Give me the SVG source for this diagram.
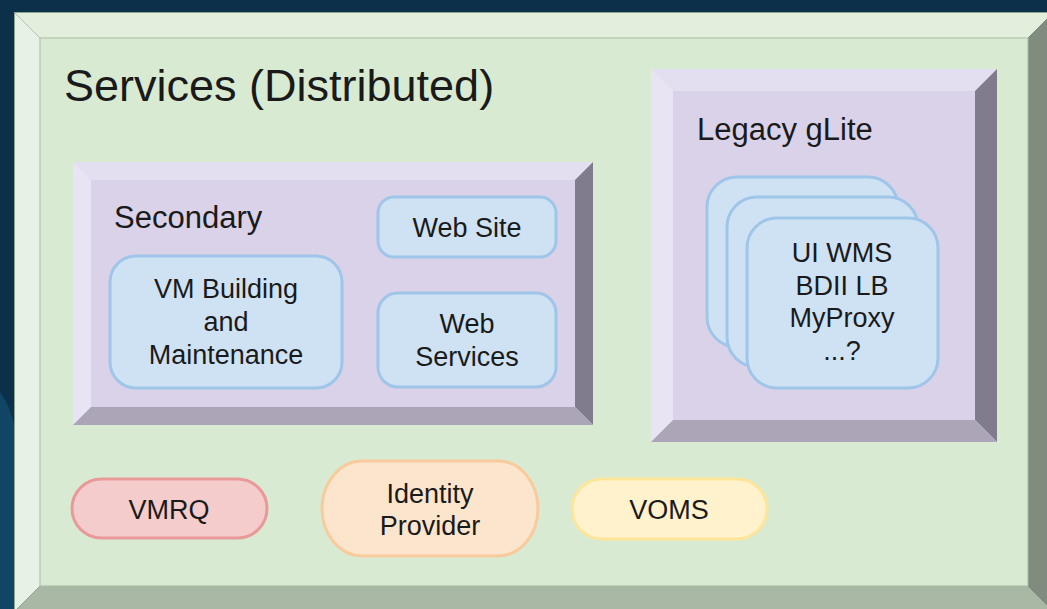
<svg xmlns="http://www.w3.org/2000/svg" width="1047" height="609" viewBox="0 0 1047 609">
<style>
text{font-family:"Liberation Sans",Arial,sans-serif;fill:#1a1a1a}
.t{font-size:27px;text-anchor:middle}
.blue{fill:#cfe2f3;stroke:#9fc5e8;stroke-width:3}
.gT{fill:#e3eedd}.gL{fill:#e8f1e5}.gR{fill:#7f8c7e}.gB{fill:#a9b8a5}.gF{fill:#d9ead3;stroke:#a8bba4;stroke-width:1}
.pT{fill:#e3def0}.pL{fill:#e8e4f3}.pR{fill:#817c8d}.pB{fill:#aba5b7}.pF{fill:#d9d2e9}
</style>
<rect x="0" y="0" width="1047" height="609" fill="#0c2f4a"/>
<path d="M0 392 Q10 405 14 425 L14 609 L0 609 Z" fill="#104566"/>
<g id="services">
<polygon class="gT" points="14,12 1054,12 1028,38 40,38"/>
<polygon class="gL" points="14,12 40,38 40,586 14,612"/>
<polygon class="gR" points="1054,12 1054,612 1028,586 1028,38"/>
<polygon class="gB" points="14,612 1054,612 1028,586 40,586"/>
<rect class="gF" x="40" y="38" width="988" height="548"/>
<rect x="14.5" y="12.5" width="1040" height="600" fill="none" stroke="#8da38a" stroke-width="1"/>
<text x="64" y="101" font-size="45">Services (Distributed)</text>
</g>
<g id="secondary">
<polygon class="pT" points="73,162 593,162 575,180 91,180"/>
<polygon class="pL" points="73,162 91,180 91,407 73,425"/>
<polygon class="pR" points="593,162 593,425 575,407 575,180"/>
<polygon class="pB" points="73,425 593,425 575,407 91,407"/>
<rect class="pF" x="91" y="180" width="484" height="227"/>
<text x="114" y="228" font-size="31">Secondary</text>
</g>
<g id="vm-building">
<rect class="blue" x="110" y="256" width="232" height="132" rx="26"/>
<text class="t" x="226" y="298">VM Building</text>
<text class="t" x="226" y="331">and</text>
<text class="t" x="226" y="364">Maintenance</text>
</g>
<g id="web-site">
<rect class="blue" x="378" y="197" width="178" height="60" rx="16"/>
<text class="t" x="467" y="237">Web Site</text>
</g>
<g id="web-services">
<rect class="blue" x="378" y="293" width="178" height="94" rx="20"/>
<text class="t" x="467" y="333">Web</text>
<text class="t" x="467" y="366">Services</text>
</g>
<g id="legacy">
<polygon class="pT" points="651,69 997,69 975,91 673,91"/>
<polygon class="pL" points="651,69 673,91 673,420 651,442"/>
<polygon class="pR" points="997,69 997,442 975,420 975,91"/>
<polygon class="pB" points="651,442 997,442 975,420 673,420"/>
<rect class="pF" x="673" y="91" width="302" height="329"/>
<text x="697" y="140" font-size="31">Legacy gLite</text>
</g>
<g id="glite-services">
<rect class="blue" x="707" y="177" width="191" height="170" rx="30"/>
<rect class="blue" x="727" y="197" width="191" height="170" rx="30"/>
<rect class="blue" x="747" y="218" width="191" height="170" rx="30"/>
<text class="t" x="842" y="262">UI WMS</text>
<text class="t" x="842" y="295">BDII LB</text>
<text class="t" x="842" y="327">MyProxy</text>
<text class="t" x="842" y="360">...?</text>
</g>
<g id="vmrq">
<rect x="72" y="479" width="195" height="59" rx="29.5" fill="#f4cccc" stroke="#ea9999" stroke-width="3"/>
<text class="t" x="169" y="519">VMRQ</text>
</g>
<g id="identity-provider">
<rect x="322" y="461" width="216" height="95" rx="40" ry="47.5" fill="#fce5cd" stroke="#f9cb9c" stroke-width="3"/>
<text class="t" x="430" y="503">Identity</text>
<text class="t" x="430" y="535">Provider</text>
</g>
<g id="voms">
<rect x="572" y="479" width="195" height="60" rx="30" fill="#fff2cc" stroke="#ffe599" stroke-width="3"/>
<text class="t" x="669" y="519">VOMS</text>
</g>
<g id="connectors"/>
</svg>
